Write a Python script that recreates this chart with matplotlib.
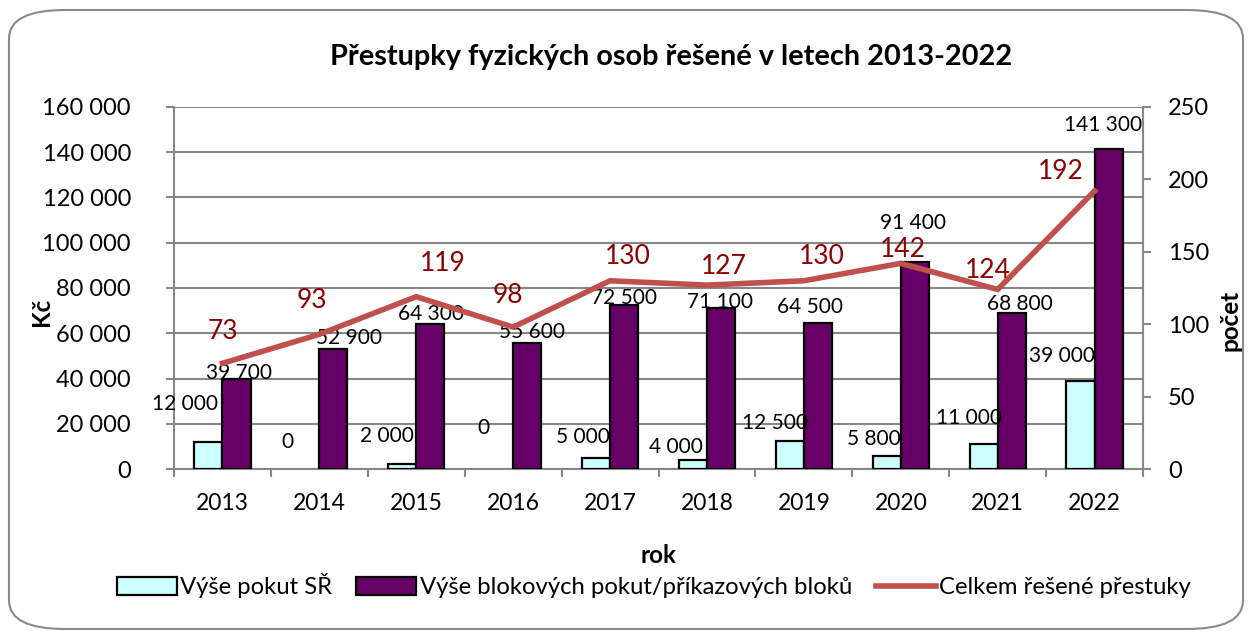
import numpy as np
import matplotlib
matplotlib.use("Agg")
import matplotlib.pyplot as plt
from matplotlib.patches import FancyBboxPatch, Patch
from matplotlib.lines import Line2D

plt.rcParams["font.family"] = ["Lato", "DejaVu Sans"]

years = ["2013", "2014", "2015", "2016", "2017", "2018", "2019", "2020", "2021", "2022"]
pokuty_sr = [12000, 0, 2000, 0, 5000, 4000, 12500, 5800, 11000, 39000]
blokove = [39700, 52900, 64300, 55600, 72500, 71100, 64500, 91400, 68800, 141300]
prestupky = [73, 93, 119, 98, 130, 127, 130, 142, 124, 192]

# label offsets in pixels (dx, dy) from the mark
off_sr = [(-23, 38), (-18, 27), (-15, 28), (-16, 41), (-13, 21),
          (-17, 13), (-15, 18), (-13, 17), (-15, 26), (-18, 25)]
off_blok = [(2, 6), (16, 11), (1, 10), (5, 11), (0, 7),
            (-1, 6), (-8, 16), (-2, 39), (8, 9), (-6, 24)]
off_line = [(0, 32), (-7, 34), (27, 33), (-5, 32), (18, 24),
            (17, 19), (18, 24), (2, 14), (-10, 19), (-34, 19)]

C_SR = "#CCFFFF"
C_BLOK = "#660066"
C_LINE = "#C0504D"
C_LBL = "#8B0000"
C_GRID = "#878787"


def fmt(v):
    return f"{v:,}".replace(",", " ")


fig = plt.figure(figsize=(12.52, 6.32), dpi=100)
fig.patches.append(FancyBboxPatch((9 / 1252, 3 / 632), 1234 / 1252, 619 / 632,
                                  boxstyle="round,pad=0,rounding_size=0.045",
                                  transform=fig.transFigure, fc="white",
                                  ec="#8a8a8a", lw=1.5, zorder=-10))

ax = fig.add_axes([174 / 1252, 1 - 469 / 632, (1143 - 174) / 1252, (469 - 107) / 632])
ax.patch.set_alpha(0)
x = np.arange(len(years))
w = 0.29

# Excel draws nothing for zero-height bars
ec_sr = ["black" if v else "none" for v in pokuty_sr]
ax.bar(x - w / 2, pokuty_sr, w, color=C_SR, edgecolor=ec_sr, lw=1.6, zorder=3)
ax.bar(x + w / 2, blokove, w, color=C_BLOK, edgecolor="black", lw=1.6, zorder=3)

ax.set_ylim(0, 160000)
ax.set_xlim(-0.5, len(years) - 0.5)
ax.set_yticks(np.arange(0, 160001, 20000))
ax.set_yticklabels([fmt(v) for v in range(0, 160001, 20000)], fontsize=17)
ax.grid(axis="y", color=C_GRID, lw=1.5, zorder=0)
ax.set_xticks(x)
ax.set_xticklabels(years, fontsize=16.5)
ax.set_xticks(np.arange(-0.5, len(years)), minor=True)
ax.tick_params(axis="x", which="major", length=0, pad=17)
ax.tick_params(axis="x", which="minor", length=6, width=1.5, color=C_GRID)
ax.tick_params(axis="y", length=6, width=1.5, color=C_GRID, pad=25)
for s in ["left", "right", "bottom"]:
    ax.spines[s].set_color(C_GRID)
    ax.spines[s].set_linewidth(1.5)
ax.spines["top"].set_visible(False)

for i, v in enumerate(pokuty_sr):
    ax.annotate(fmt(v), (x[i] - w / 2, v), xytext=off_sr[i], textcoords="offset pixels",
                ha="center", va="center", fontsize=15, zorder=5)
for i, v in enumerate(blokove):
    ax.annotate(fmt(v), (x[i] + w / 2, v), xytext=off_blok[i], textcoords="offset pixels",
                ha="center", va="center", fontsize=15, zorder=5)

ax.set_ylabel("Kč", fontsize=17.5, fontweight="bold")
ax.yaxis.set_label_coords(-0.125, 0.434)
ax.set_xlabel("rok", fontsize=17.5, fontweight="bold", labelpad=22)

ax2 = ax.twinx()
ax2.plot(x, prestupky, color=C_LINE, lw=4, zorder=4, solid_joinstyle="miter")
ax2.set_ylim(0, 250)
ax2.set_yticks(np.arange(0, 251, 50))
ax2.tick_params(axis="y", length=6, width=1.5, color=C_GRID, labelsize=17, pad=12)
for s in ["left", "right", "bottom", "top"]:
    ax2.spines[s].set_visible(False)
for i, v in enumerate(prestupky):
    ax2.annotate(str(v), (x[i], v), xytext=off_line[i], textcoords="offset pixels",
                 ha="center", va="center", fontsize=19, color=C_LBL, zorder=6)
ax2.set_ylabel("počet", fontsize=17.5, fontweight="bold")
ax2.yaxis.set_label_coords(1.078, 0.41)

fig.suptitle("Přestupky fyzických osob řešené v letech 2013-2022", x=671 / 1252, y=1 - 57 / 632,
             va="center", fontsize=20.8, fontweight="bold")

handles = [Patch(facecolor=C_SR, edgecolor="black", lw=1.6),
           Patch(facecolor=C_BLOK, edgecolor="black", lw=1.6),
           Line2D([], [], color=C_LINE, lw=4)]
labels = ["Výše pokut SŘ", "Výše blokových pokut/příkazových bloků", "Celkem řešené přestuky"]
fig.legend(handles, labels, loc="center", bbox_to_anchor=(654 / 1252, 1 - 586 / 632), ncol=3,
           frameon=False, fontsize=17.2, handlelength=2.5, handleheight=0.75,
           handletextpad=0.15, columnspacing=1.0)

fig.savefig("out.png", dpi=100)
